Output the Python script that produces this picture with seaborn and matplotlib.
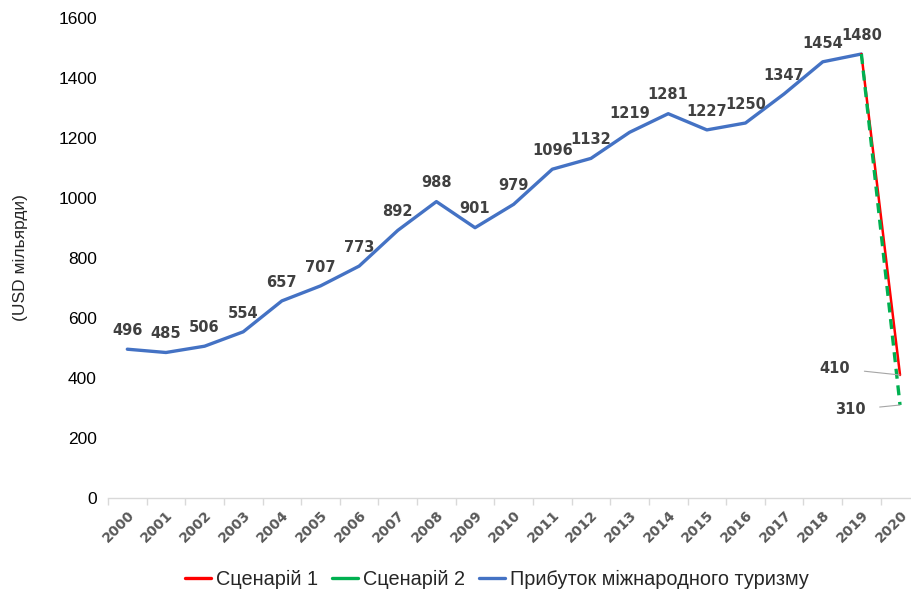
import numpy as np
import pandas as pd
import matplotlib
matplotlib.use("Agg")
import matplotlib.pyplot as plt
from matplotlib.lines import Line2D
import seaborn as sns

# data
years = ["2000", "2001", "2002", "2003", "2004", "2005", "2006", "2007", "2008", "2009", "2010",
         "2011", "2012", "2013", "2014", "2015", "2016", "2017", "2018", "2019", "2020"]
revenue = [496, 485, 506, 554, 657, 707, 773, 892, 988, 901, 979,
           1096, 1132, 1219, 1281, 1227, 1250, 1347, 1454, 1480]
scenario_years = ["2019", "2020"]
scenario1 = [1480, 410]
scenario2 = [1480, 310]

series_names = ["Сценарій 1", "Сценарій 2", "Прибуток міжнародного туризму"]
colors = ["#FF0000", "#00B050", "#4472C4"]

sns.set_theme(style="white")
plt.rcParams["font.family"] = ["Liberation Sans", "DejaVu Sans"]

pos = {y: i for i, y in enumerate(years)}
df_rev = pd.DataFrame({"x": [pos[y] for y in years[:len(revenue)]], "v": revenue})
df_s1 = pd.DataFrame({"x": [pos[y] for y in scenario_years], "v": scenario1})
df_s2 = pd.DataFrame({"x": [pos[y] for y in scenario_years], "v": scenario2})

fig = plt.figure(figsize=(9.12, 5.94), dpi=100)
ax = fig.add_axes([108 / 912, 1 - 498 / 594, 804 / 912, 480 / 594])

sns.lineplot(data=df_rev, x="x", y="v", ax=ax, color=colors[2], linewidth=2.4)
sns.lineplot(data=df_s1, x="x", y="v", ax=ax, color=colors[0], linewidth=1.8)
sns.lineplot(data=df_s2, x="x", y="v", ax=ax, color=colors[1], linewidth=2.4,
             linestyle=(0, (3, 2)))

# data labels
lab_kw = dict(textcoords="offset points", ha="center", va="center", fontsize=10.5,
              fontweight="bold", color="#404040", family="DejaVu Sans")
for i, v in enumerate(revenue):
    ax.annotate(str(v), (i, v), xytext=(0, 13.5), **lab_kw)

last = len(years) - 1
ax.annotate(str(scenario1[1]), (last, scenario1[1]), xytext=(-47, 5),
            arrowprops=dict(arrowstyle="-", color="#a6a6a6", lw=0.8, shrinkA=8, shrinkB=0),
            **lab_kw)
ax.annotate(str(scenario2[1]), (last, scenario2[1]), xytext=(-36, -3.6),
            arrowprops=dict(arrowstyle="-", color="#a6a6a6", lw=0.8, shrinkA=8, shrinkB=0),
            **lab_kw)

ax.set_xlim(-0.5, last + 0.31)
ax.set_ylim(0, 1600)
ax.set_yticks(range(0, 1601, 200))
ax.tick_params(axis="y", labelsize=12.5, colors="black", length=0, pad=8)
ax.set_xticks(range(len(years)))
ax.set_xticklabels(years, rotation=45, ha="right", rotation_mode="anchor",
                   fontsize=10, fontweight="bold", color="#595959", family="DejaVu Sans")
ax.set_xticks(np.arange(-0.5, last + 0.5, 1), minor=True)
ax.tick_params(axis="x", which="major", length=0, pad=7)
ax.tick_params(axis="x", which="minor", length=5, color="#d9d9d9", width=1, bottom=True)

ax.set_xlabel("")
ax.set_ylabel("(USD мільярди)", fontsize=12.5, labelpad=22)
for s in ["top", "right", "left"]:
    ax.spines[s].set_visible(False)
ax.spines["bottom"].set_color("#d9d9d9")
ax.spines["bottom"].set_linewidth(1)
ax.grid(False)

handles = [Line2D([0], [0], color=c, lw=2.4) for c in colors]
fig.legend(handles, series_names, loc="center", bbox_to_anchor=(0.545, 0.024), ncol=3,
           frameon=False, fontsize=14.3, handlelength=1.3, handletextpad=0.25,
           columnspacing=0.7)

fig.savefig("out.png", dpi=100)
